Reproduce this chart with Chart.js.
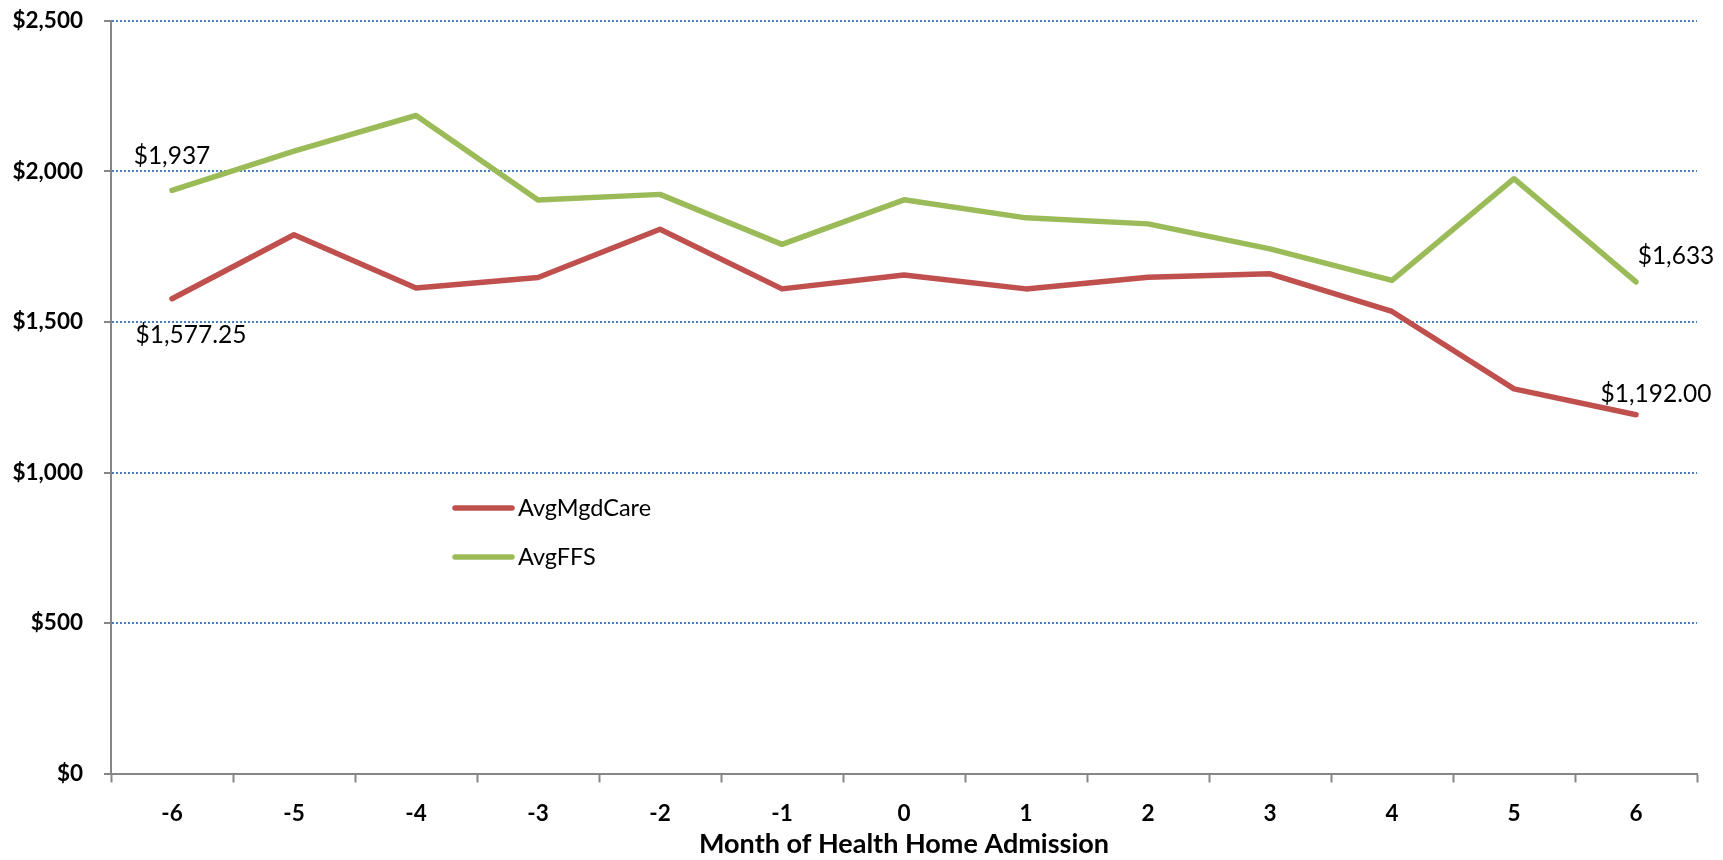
<!DOCTYPE html>
<html>
<head>
<meta charset="utf-8">
<script src="https://cdn.jsdelivr.net/npm/chart.js@4.4.1/dist/chart.umd.min.js"></script>
<style>
  html, body { margin: 0; padding: 0; background: #fff; }
  #wrap { width: 1723px; height: 860px; }
</style>
</head>
<body>
<div id="wrap"><canvas id="lineChart" width="1723" height="860"></canvas></div>
<script>
// month relative to health home admission
var months = ["-6", "-5", "-4", "-3", "-2", "-1", "0", "1", "2", "3", "4", "5", "6"];
var avgMgdCare = [1577.25, 1790, 1613, 1648, 1808, 1610, 1656, 1610, 1649, 1660, 1535, 1278, 1192];
var avgFFS = [1937, 2068, 2186, 1905, 1924, 1758, 1906, 1846, 1826, 1743, 1638, 1976, 1633];
var yTicks = [0, 500, 1000, 1500, 2000, 2500];

var FONT = "Lato, 'Open Sans', sans-serif";
var axisGray = '#868686';

function money(v, dec) {
  return '$' + v.toLocaleString('en-US', {minimumFractionDigits: dec, maximumFractionDigits: dec});
}

// which points get a value label: [dataset, index, decimals, dx, dy]
var pointLabels = [
  [1, 0, 0, 0, -34],
  [0, 0, 2, 19, 36],
  [1, 12, 0, 40, -26],
  [0, 12, 2, 20, -21]
];

var labelPlugin = {
  id: 'pointLabels',
  afterDatasetsDraw: function(chart) {
    var ctx = chart.ctx;
    ctx.save();
    ctx.font = '24.5px ' + FONT;
    ctx.fillStyle = '#000';
    ctx.textAlign = 'center';
    ctx.textBaseline = 'middle';
    pointLabels.forEach(function(p) {
      var el = chart.getDatasetMeta(p[0]).data[p[1]];
      var v = chart.data.datasets[p[0]].data[p[1]];
      ctx.fillText(money(v, p[2]), el.x + p[3], el.y + p[4]);
    });
    ctx.restore();
  }
};

// legend sits inside the plot area
var legendPlugin = {
  id: 'innerLegend',
  afterDraw: function(chart) {
    var ctx = chart.ctx;
    ctx.save();
    ctx.font = '23.5px ' + FONT;
    ctx.textBaseline = 'middle';
    chart.data.datasets.forEach(function(ds, i) {
      var y = 508 + i * 49;
      ctx.strokeStyle = ds.borderColor;
      ctx.lineWidth = 5.5;
      ctx.lineCap = 'round';
      ctx.beginPath();
      ctx.moveTo(455, y);
      ctx.lineTo(512, y);
      ctx.stroke();
      ctx.fillStyle = '#000';
      ctx.fillText(ds.label, 518, y);
    });
    ctx.restore();
  }
};

var ctxL = document.getElementById("lineChart").getContext('2d');
var myLineChart = new Chart(ctxL, {
  type: 'line',
  data: {
    labels: months,
    datasets: [{
        label: "AvgMgdCare",
        data: avgMgdCare,
        borderColor: '#C0504D',
        backgroundColor: '#C0504D',
        borderWidth: 5.5,
        borderCapStyle: 'round',
        borderJoinStyle: 'round',
        pointRadius: 0,
        tension: 0
      },
      {
        label: "AvgFFS",
        data: avgFFS,
        borderColor: '#9BBB59',
        backgroundColor: '#9BBB59',
        borderWidth: 5.5,
        borderCapStyle: 'round',
        borderJoinStyle: 'round',
        pointRadius: 0,
        tension: 0
      }
    ]
  },
  options: {
    responsive: false,
    animation: false,
    layout: { padding: { top: 21, right: 26, left: 0, bottom: 0 } },
    plugins: {
      legend: { display: false },
      tooltip: { enabled: false }
    },
    scales: {
      x: {
        type: 'category',
        offset: true,
        afterFit: function(scale) { scale.height = 86.5; },
        grid: {
          offset: true,
          drawOnChartArea: false,
          drawTicks: true,
          tickLength: 9,
          tickColor: axisGray,
          tickWidth: 2
        },
        border: { display: true, color: axisGray, width: 2 },
        ticks: {
          color: '#000',
          padding: 18,
          maxRotation: 0,
          font: { family: FONT, size: 22.5, weight: 'bold' }
        },
        title: {
          display: true,
          text: 'Month of Health Home Admission',
          color: '#000',
          padding: { top: 4, bottom: 0 },
          font: { family: FONT, size: 27, weight: 'bold' }
        }
      },
      y: {
        min: 0,
        max: 2500,
        afterFit: function(scale) {
          scale.width = 111;
          scale.paddingTop = 0;
          scale.paddingBottom = 0;
        },
        afterBuildTicks: function(scale) {
          scale.ticks = yTicks.map(function(v) { return { value: v }; });
        },
        grid: {
          color: function(c) { return c.tick && c.tick.value === 0 ? 'rgba(0,0,0,0)' : '#4A7EBB'; },
          lineWidth: 2,
          drawTicks: true,
          tickLength: 7,
          tickColor: axisGray,
          tickWidth: 2,
          tickBorderDash: []
        },
        border: { display: true, color: axisGray, width: 2, dash: [2, 2] },
        ticks: {
          color: '#000',
          padding: 21,
          font: { family: FONT, size: 22.5, weight: 'bold' },
          callback: function(v) { return money(v, 0); }
        }
      }
    }
  },
  plugins: [labelPlugin, legendPlugin]
});
</script>
</body>
</html>
